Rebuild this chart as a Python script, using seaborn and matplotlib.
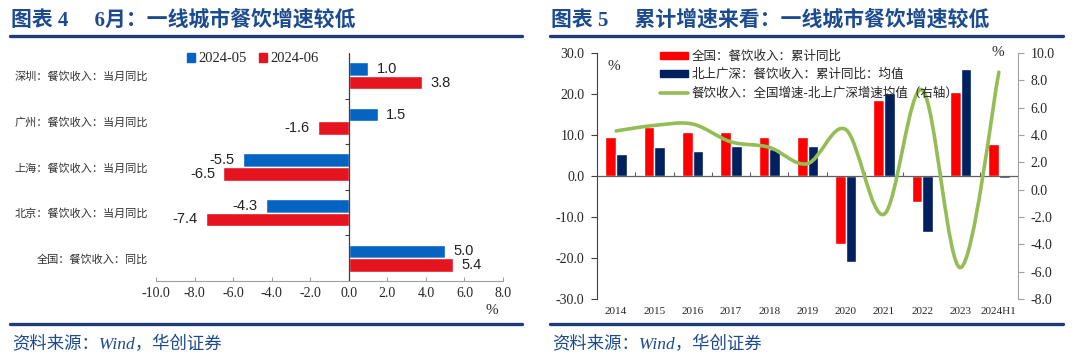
import matplotlib
matplotlib.use("Agg")
import matplotlib.pyplot as plt
from matplotlib.patches import Patch, PathPatch
from matplotlib.lines import Line2D
from matplotlib.path import Path
import seaborn as sns
import pandas as pd
import numpy as np

# ── Data: left chart (monthly YoY) ─────────────────────────────
cities = ["深圳：餐饮收入：当月同比", "广州：餐饮收入：当月同比",
          "上海：餐饮收入：当月同比", "北京：餐饮收入：当月同比",
          "全国：餐饮收入：同比"]
may_2024 = [1.0, 1.5, -5.5, -4.3, 5.0]
jun_2024 = [3.8, -1.6, -6.5, -7.4, 5.4]
month_labels = ["2024-05", "2024-06"]

# ── Data: right chart (cumulative YoY) ─────────────────────────
years = ["2014", "2015", "2016", "2017", "2018", "2019",
         "2020", "2021", "2022", "2023", "2024H1"]
national_cum = [9.6, 12.0, 10.8, 10.7, 9.4, 9.4, -16.5, 18.6, -6.3, 20.4, 7.9]
tier1_cum = [5.4, 7.1, 6.0, 7.2, 6.5, 7.4, -20.9, 20.3, -13.7, 26.0, -0.5]
gap_right = [4.3, 4.7, 4.8, 3.5, 3.1, 1.9, 4.4, -1.8, 7.3, -5.7, 8.6]
series_labels = ["全国：餐饮收入：累计同比", "北上广深：餐饮收入：累计同比：均值",
                 "餐饮收入：全国增速-北上广深增速均值（右轴）"]

# ── Style ──────────────────────────────────────────────────────
sns.set_style("white")
plt.rcParams["font.family"] = ["Liberation Serif", "Noto Sans CJK SC", "DejaVu Sans"]
plt.rcParams["axes.unicode_minus"] = False

CJK = "Noto Sans CJK SC"
TITLE_C = "#1B4A8E"
RULE_C = "#1F3C78"
BLUE = "#0563C1"
RED_L = "#E5141E"
RED_R = "#FF0000"
NAVY = "#002060"
GREEN = "#94BD55"
W, H = 1080, 358

fig = plt.figure(figsize=(W / 100, H / 100), dpi=100)
fig.patch.set_facecolor("white")


def fx(px):
    return px / W


def fy(py):
    return 1 - py / H


# ── Headers / footers ──────────────────────────────────────────
fig.text(fx(11), fy(20), "图表 4\u3000 6月：一线城市餐饮增速较低", fontsize=15,
         weight="bold", color=TITLE_C, va="center")
fig.text(fx(551), fy(20), "图表 5\u3000 累计增速来看：一线城市餐饮增速较低", fontsize=15,
         weight="bold", color=TITLE_C, va="center")
for x0, x1 in [(10, 522), (550, 1063)]:
    for yy in (36, 323.5):
        fig.add_artist(Line2D([fx(x0), fx(x1)], [fy(yy), fy(yy)],
                              color=RULE_C, lw=2.4))
    fig.text(fx(x0 + 2), fy(345), "资料来源：Wind，华创证券", fontsize=12.5,
             style="italic", color=TITLE_C, va="center")

# ── Left chart ─────────────────────────────────────────────────
df_left = pd.DataFrame({
    "city": cities * 2,
    "value": may_2024 + jun_2024,
    "month": [m for m in month_labels for _ in cities],
})
ax1 = fig.add_axes([fx(156), fy(281), fx(503) - fx(156), fy(53) - fy(281)])
sns.barplot(data=df_left, y="city", x="value", hue="month", orient="h",
            palette=[BLUE, RED_L], width=0.6, saturation=1, errorbar=None,
            legend=False, ax=ax1)
for cont in ax1.containers:
    ax1.bar_label(cont, fmt="%.1f", padding=6, fontsize=10.5,
                  family="Liberation Sans", color="#222222")
ax1.set_xlim(-10, 8)
ax1.set_ylim(4.5, -0.5)
ax1.set_xticks(np.arange(-10, 8.1, 2))
ax1.set_xticklabels([f"{v:.1f}" for v in np.arange(-10, 8.1, 2)], fontsize=10)
ax1.set_yticks(range(len(cities)))
ax1.set_yticklabels(cities, fontsize=8, family=[CJK], color="#333333")
ax1.tick_params(axis="y", length=0, pad=6)
ax1.tick_params(axis="x", length=3, width=0.8, color="#A0A0A0", pad=4,
                direction="in", bottom=True)
ax1.set_xlabel("")
ax1.set_ylabel("")
for s in ("left", "top", "right"):
    ax1.spines[s].set_visible(False)
ax1.spines["bottom"].set_color("#A0A0A0")
ax1.axvline(0, color="#404040", lw=0.9, zorder=5)
ax1.plot([0] * 4, [0.5, 1.5, 2.5, 3.5], ls="none", marker=0, ms=3,
         color="#404040", mew=0.8)
fig.text(fx(492), fy(310), "%", fontsize=11, ha="center", va="center")
fig.legend(handles=[Patch(color=BLUE), Patch(color=RED_L)], labels=month_labels,
           loc="center left", bbox_to_anchor=(fx(187), fy(59)), ncol=2,
           frameon=False, handlelength=0.55, handleheight=0.55,
           handletextpad=0.2, columnspacing=0.9, fontsize=10.5,
           borderpad=0, borderaxespad=0)

# ── Right chart ────────────────────────────────────────────────
df_right = pd.DataFrame({
    "year": years * 2,
    "value": national_cum + tier1_cum,
    "series": [series_labels[0]] * len(years) + [series_labels[1]] * len(years),
})
ax2 = fig.add_axes([fx(597), fy(299), fx(1018) - fx(597), fy(53) - fy(299)])
sns.barplot(data=df_right, x="year", y="value", hue="series",
            palette=[RED_R, NAVY], width=0.56, saturation=1, errorbar=None,
            legend=False, ax=ax2)
ax2.set_xlim(-0.5, len(years) - 0.5)
ax2.set_ylim(-30, 30)
ax2.set_yticks(np.arange(-30, 30.1, 10))
ax2.set_yticklabels([f"{v:.1f}" for v in np.arange(-30, 30.1, 10)], fontsize=10)
ax2.tick_params(axis="y", length=4, width=0.8, color="#404040", pad=5,
                direction="out", left=True)
ax2.tick_params(axis="x", length=0, pad=6, labelsize=8)
ax2.set_xlabel("")
ax2.set_ylabel("")
for s in ("top", "right", "bottom"):
    ax2.spines[s].set_visible(False)
ax2.spines["left"].set_color("#404040")
ax2.axhline(0, color="#606060", lw=0.9, zorder=4)
ax2.plot(np.arange(len(years) - 1) + 0.5, [0] * (len(years) - 1), ls="none",
         marker=2, ms=3, color="#606060", mew=0.8)

ax2r = ax2.twinx()
ax2r.set_ylim(-8, 10)
ax2r.set_yticks(np.arange(-8, 10.1, 2))
ax2r.set_yticklabels([f"{v:.1f}" for v in np.arange(-8, 10.1, 2)], fontsize=10)
ax2r.tick_params(axis="y", length=4, width=0.8, color="#A0A0A0", pad=5,
                 direction="out", right=True)
for s in ("top", "left", "bottom"):
    ax2r.spines[s].set_visible(False)
ax2r.spines["right"].set_color("#A0A0A0")

# smoothed line (Catmull-Rom style bezier through the data points)
pts = np.column_stack([np.arange(len(years)), gap_right])
verts = [pts[0]]
codes = [Path.MOVETO]
for i in range(len(pts) - 1):
    p0 = pts[max(i - 1, 0)]
    p1 = pts[i]
    p2 = pts[i + 1]
    p3 = pts[min(i + 2, len(pts) - 1)]
    verts += [p1 + (p2 - p0) / 6, p2 - (p3 - p1) / 6, p2]
    codes += [Path.CURVE4] * 3
ax2r.add_patch(PathPatch(Path(verts, codes), fill=False, edgecolor=GREEN,
                         lw=2.6, capstyle="round", zorder=6))

fig.text(fx(614), fy(66), "%", fontsize=11, ha="center", va="center")
fig.text(fx(998), fy(53), "%", fontsize=11, ha="center", va="center")
fig.legend(handles=[Patch(color=RED_R), Patch(color=NAVY),
                    Line2D([], [], color=GREEN, lw=2.6)],
           labels=series_labels, loc="upper left",
           bbox_to_anchor=(fx(660), fy(50)), frameon=False,
           handlelength=2.2, handleheight=0.5, handletextpad=0.3,
           labelspacing=0.42, prop={"family": [CJK], "size": 9},
           borderpad=0, borderaxespad=0)

fig.savefig("out.png", dpi=100, facecolor="white")
